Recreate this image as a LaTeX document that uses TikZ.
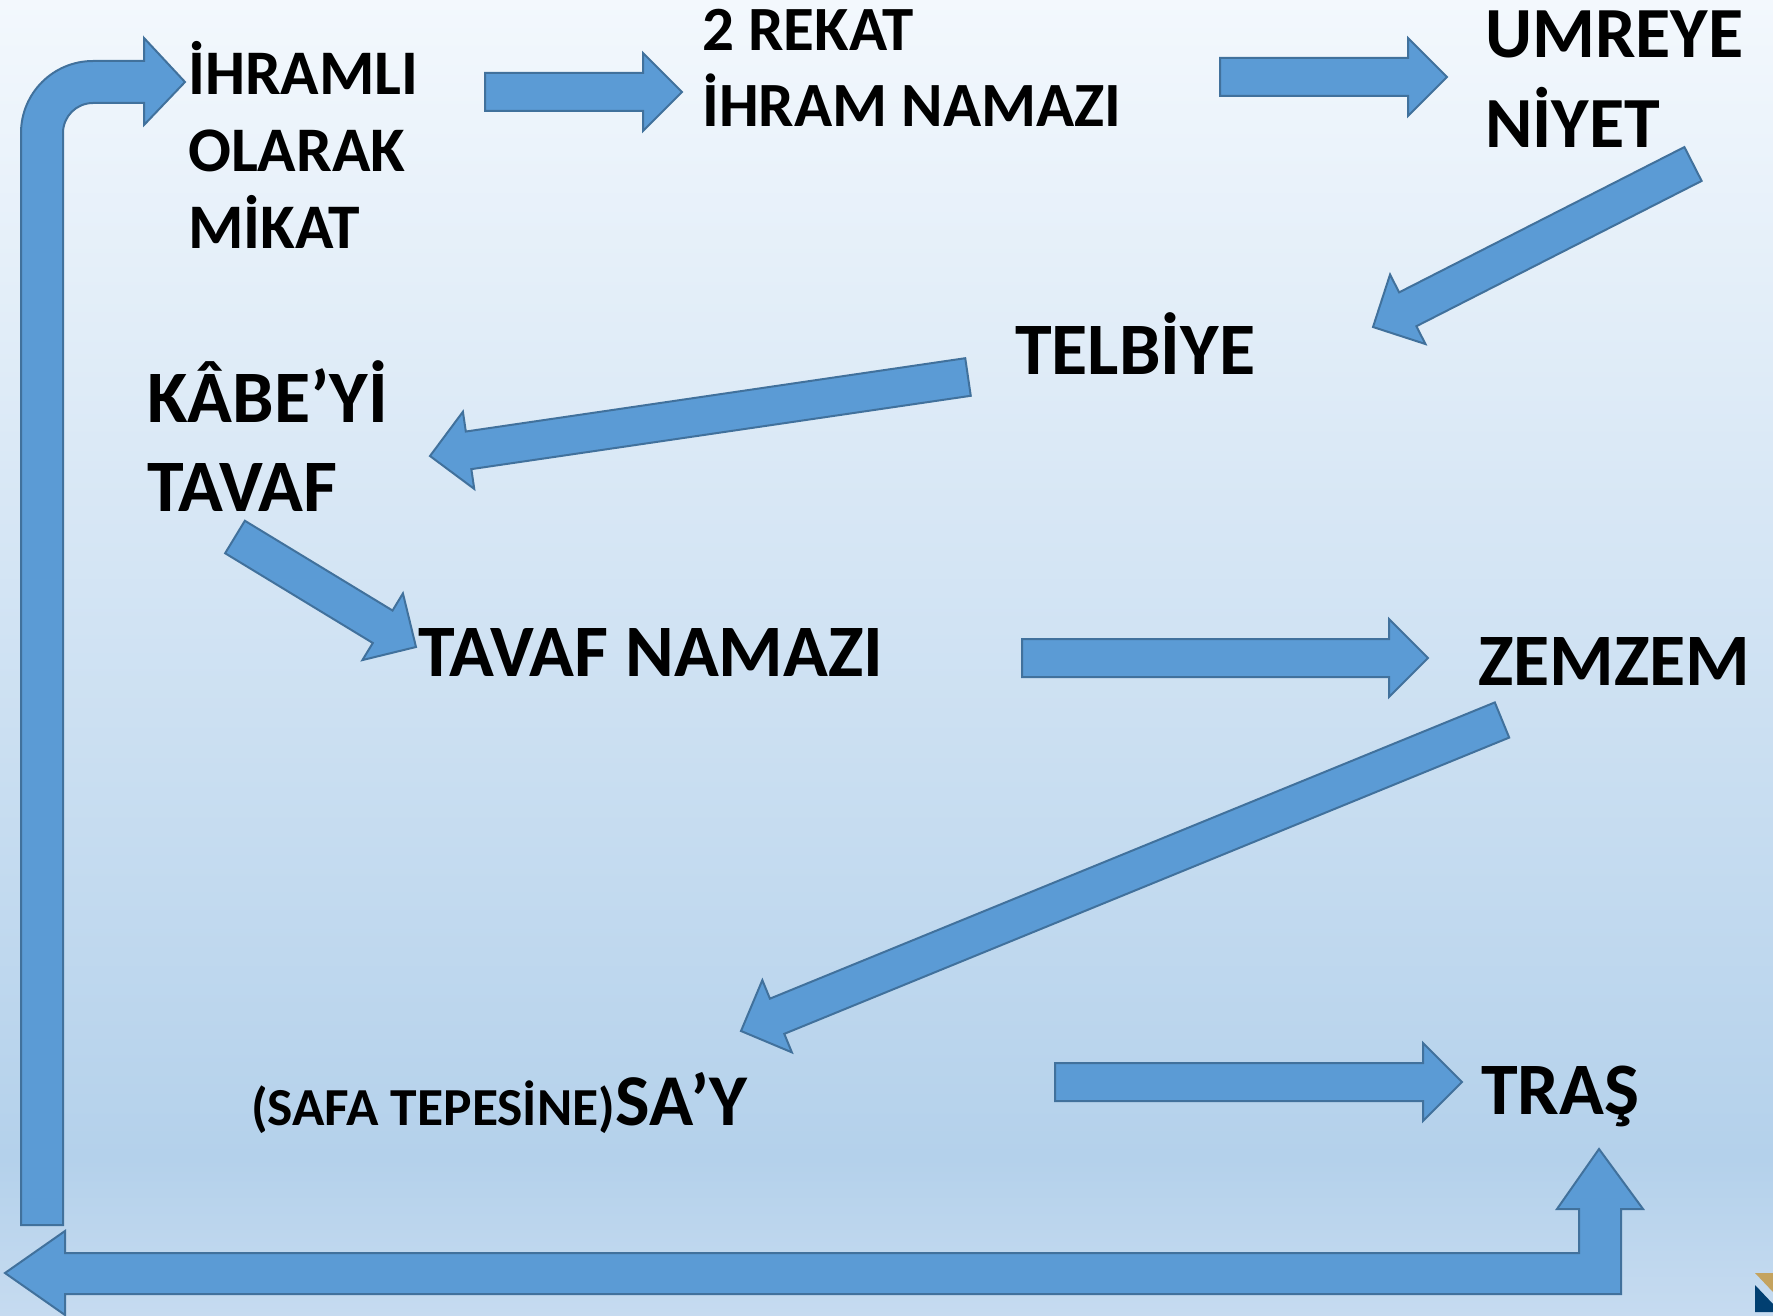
\documentclass[tikz,border=0pt]{standalone}
\usepackage{fontspec}
\setmainfont{Carlito}
\usetikzlibrary{calc}

\definecolor{arrowfill}{RGB}{91,155,213}
\definecolor{arrowline}{RGB}{65,113,156}
\definecolor{bgtop}{RGB}{243,248,253}
\definecolor{bgdark}{RGB}{180,209,235}
\definecolor{bgbot}{RGB}{198,219,240}
\definecolor{logotan}{RGB}{196,163,95}
\definecolor{logonavy}{RGB}{1,63,113}

% the rectangle only sees 25bp..75bp of the shading
\pgfdeclareverticalshading{slidebg}{100bp}{color(0bp)=(bgbot); color(25bp)=(bgbot); color(31bp)=(bgdark); color(75bp)=(bgtop); color(100bp)=(bgtop)}

\tikzset{
	barrow/.style={fill=arrowfill, draw=arrowline, line width=2pt, line join=miter},
	stepname/.style={anchor=base west, inner sep=0pt, font=\bfseries\fontsize{#1}{#1}\selectfont},
	stepname/.default=74
}

% block arrow from tail to tip
\newcommand{\blockarrow}[2]{%
	\coordinate (hb) at ($(#2)!39pt!(#1)$);
	\draw[barrow] ($(#1)!19pt!90:(#2)$) -- ($(hb)!19pt!-90:(#1)$) -- ($(hb)!39pt!-90:(#1)$) -- (#2)
		-- ($(hb)!39pt!90:(#1)$) -- ($(hb)!19pt!90:(#1)$) -- ($(#1)!19pt!-90:(#2)$) -- cycle;
}

\begin{document}
\begin{tikzpicture}[x=1pt,y=-1pt]
	\useasboundingbox (0,0) rectangle (1773,1316);
	\shade[shading=slidebg] (0,0) rectangle (1773,1316);
	
	% steps
	\node[stepname=63.5] (ihram1) at (188,95) {İHRAMLI};
	\node[stepname=63.5] (ihram2) at (188,172) {OLARAK};
	\node[stepname=63.5] (ihram3) at (188,249) {MİKAT};
	\node[stepname=63] (rekat1) at (702,51) {2 REKAT};
	\node[stepname=63] (rekat2) at (702,127) {İHRAM NAMAZI};
	\node[stepname=72] (umre1) at (1485,58) {UMREYE};
	\node[stepname=72] (umre2) at (1485,148) {NİYET};
	\node[stepname] (telbiye) at (1015,374) {TELBİYE};
	\node[stepname] (kabe1) at (147,422) {KÂBE’Yİ};
	\node[stepname] (kabe2) at (147,511) {TAVAF};
	\node[stepname=74] (tavafnamaz) at (418,676) {TAVAF NAMAZI};
	\node[stepname] (zemzem) at (1478,685) {ZEMZEM};
	\node[stepname=53.5] (safa) at (251,1125) {(SAFA TEPESİNE)};
	\node[stepname=73] (say) at (safa.base east) {SA’Y};
	\node[stepname] (tras) at (1481,1114) {TRAŞ};
	
	% arrow ends
	\coordinate (a1s) at (485,92);   \coordinate (a1e) at (682,92);
	\coordinate (a2s) at (1220,77);  \coordinate (a2e) at (1447,77);
	\coordinate (a3s) at (1693,164); \coordinate (a3e) at (1373,327);
	\coordinate (a4s) at (968,377);  \coordinate (a4e) at (430,456);
	\coordinate (a5s) at (235,537);  \coordinate (a5e) at (416,647);
	\coordinate (a6s) at (1022,658); \coordinate (a6e) at (1428,658);
	\coordinate (a7s) at (1502,720); \coordinate (a7e) at (741,1031);
	\coordinate (a8s) at (1055,1082); \coordinate (a8e) at (1462,1082);
	
	\blockarrow{a1s}{a1e}
	\blockarrow{a2s}{a2e}
	\blockarrow{a3s}{a3e}
	\blockarrow{a4s}{a4e}
	\blockarrow{a5s}{a5e}
	\blockarrow{a6s}{a6e}
	\blockarrow{a7s}{a7e}
	\blockarrow{a8s}{a8e}
	
	% back to the start
	\draw[barrow] (21,1225) -- (21,133) .. controls (21,93.2) and (53.2,61) .. (93,61) -- (144,61) -- (144,38)
		-- (185,82) -- (144,125) -- (144,103) -- (93,103) .. controls (76.4,103) and (63,116.4) .. (63,133)
		-- (63,1225) -- cycle;
	\draw[barrow] (5,1273) -- (65,1231) -- (65,1253) -- (1579,1253) -- (1579,1209) -- (1557,1209)
		-- (1599,1149) -- (1643,1209) -- (1621,1209) -- (1621,1294) -- (65,1294) -- (65,1315) -- cycle;
	
	% logo corner
	\fill[logotan] (1755,1273) -- (1773,1273) -- (1773,1292) -- cycle;
	\fill[logonavy] (1755,1285) -- (1773,1304) -- (1773,1312) -- (1755,1312) -- cycle;
\end{tikzpicture}
\end{document}
